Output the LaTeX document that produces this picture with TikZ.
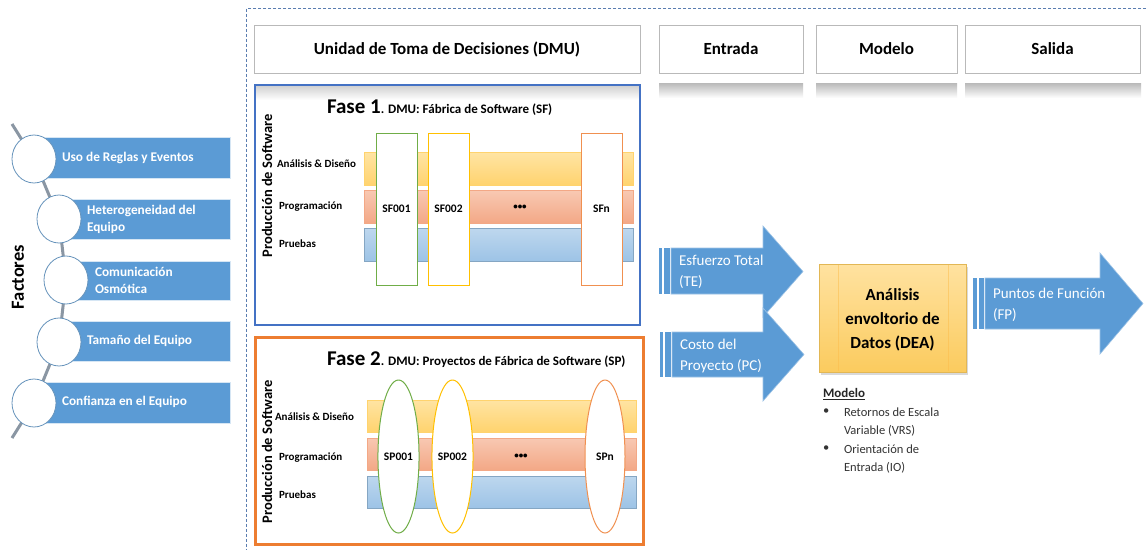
\documentclass[tikz,border=0pt]{standalone}
\usepackage{fontspec}
\setmainfont{Carlito}
\usetikzlibrary{shapes.geometric}
\definecolor{fblue}{HTML}{5B9BD5}
\definecolor{frameblue}{HTML}{4472C4}
\definecolor{forange}{HTML}{ED7D31}
\definecolor{fgreen}{HTML}{70AD47}
\definecolor{fyellow}{HTML}{FFC000}
\definecolor{dashblue}{HTML}{5A7DB0}
\definecolor{bandYt}{HTML}{FFE4A3}
\definecolor{bandYb}{HTML}{FFD36E}
\definecolor{bandOt}{HTML}{F8C8B2}
\definecolor{bandOb}{HTML}{F3A886}
\definecolor{bandBt}{HTML}{BDD7EE}
\definecolor{bandBb}{HTML}{9DC3E6}
\definecolor{deat}{HTML}{FFE2A0}
\definecolor{deab}{HTML}{FBCB5E}
\definecolor{chaingray}{HTML}{8A96A3}
\pgfdeclarelayer{bottom}
\pgfdeclarelayer{chainlayer}
\pgfsetlayers{bottom,chainlayer,main}
\tikzset{
  hdr/.style={draw=gray!55, line width=0.8pt, fill=white, font=\bfseries\fontsize{17}{20}\selectfont, minimum height=48pt},
  frect/.style={fill=fblue, draw=white!75!fblue, line width=0.8pt},
  ftext/.style={anchor=west, text=white, align=left, font=\bfseries\fontsize{13.3}{17}\selectfont},
  fcirc/.style={ellipse, draw=fblue!70!gray, line width=0.8pt, fill=white, minimum width=44pt, minimum height=48pt},
  bandY/.style={draw=bandYb, top color=bandYt, bottom color=bandYb, minimum width=269pt, minimum height=33pt},
  bandO/.style={draw=bandOb, top color=bandOt, bottom color=bandOb, minimum width=269pt, minimum height=33pt},
  bandB/.style={draw=bandBb!85!black, top color=bandBt, bottom color=bandBb, minimum width=269pt, minimum height=33pt},
  blabel/.style={anchor=west, font=\bfseries\fontsize{11}{13}\selectfont},
  col/.style={fill=white, line width=1pt, minimum width=41pt, minimum height=152pt, font=\bfseries\fontsize{11.5}{13}\selectfont},
  ecol/.style={ellipse, fill=white, line width=1pt, minimum width=39pt, minimum height=153pt, font=\bfseries\fontsize{11.5}{13}\selectfont},
  vtext/.style={rotate=90, font=\bfseries\fontsize{14.5}{16}\selectfont},
  arrowshape/.style={fill=fblue, draw=fblue!60!white, line width=0.6pt},
  atext/.style={anchor=west, text=white, align=left, font=\fontsize{15}{21}\selectfont},
  mtext/.style={anchor=west, text=black!80, font=\fontsize{12.5}{15}\selectfont},
  dotsnode/.style={font=\bfseries\fontsize{9}{12}\selectfont},
}
\begin{document}
\begin{tikzpicture}[x=1pt,y=-1pt, every node/.append style={inner sep=0pt, outer sep=0pt}]
\useasboundingbox (0,0) rectangle (1146,550);
\begin{pgfonlayer}{bottom}
\fill[white] (0,0) rectangle (1146,550);
\end{pgfonlayer}

% dashed frame
\draw[dashblue, line width=0.8pt, dash pattern=on 3pt off 2pt] (1146,8) -- (246.5,8) -- (246.5,550);

% header boxes
\node[hdr, minimum width=386pt] (hdmu) at (447,49) {Unidad de Toma de Decisiones (DMU)};
\node[hdr, minimum width=144pt] (hent) at (731,49) {Entrada};
\node[hdr, minimum width=141pt] (hmod) at (886.5,49) {Modelo};
\node[hdr, minimum width=175pt] (hsal) at (1052.5,49) {Salida};
\shade[top color=gray!55, bottom color=white] (659,83) rectangle (803,98);
\shade[top color=gray!55, bottom color=white] (816,83) rectangle (957,98);
\shade[top color=gray!55, bottom color=white] (965,83) rectangle (1141,98);

% ---------- Factores ----------
\node[frect, minimum width=186pt, minimum height=41pt] (r1) at (137,157.5) {};
\node[frect, minimum width=161pt, minimum height=40pt] (r2) at (149.5,219) {};
\node[frect, minimum width=154pt, minimum height=39pt] (r3) at (153,280.5) {};
\node[frect, minimum width=161pt, minimum height=40pt] (r4) at (149.5,341) {};
\node[frect, minimum width=186pt, minimum height=41pt] (r5) at (137,402.5) {};
\coordinate (ctop) at (12,124);
\coordinate (cbot) at (12,438);
\node[fcirc] (c1) at (34,159) {};
\node[fcirc] (c2) at (59,219) {};
\node[fcirc] (c3) at (66,280) {};
\node[fcirc] (c4) at (59,342) {};
\node[fcirc] (c5) at (34,403) {};
\begin{pgfonlayer}{chainlayer}
\draw[chaingray, line width=3pt] (ctop) -- (c1.center) -- (c2.center) -- (c3.center) -- (c4.center) -- (c5.center) -- (cbot);
\end{pgfonlayer}
\node[ftext] (t1) at (62,158) {Uso de Reglas y Eventos};
\node[ftext] (t2) at (87,219) {Heterogeneidad del\\Equipo};
\node[ftext] (t3) at (95,280) {Comunicación\\Osmótica};
\node[ftext] (t4) at (87,341) {Tamaño del Equipo};
\node[ftext] (t5) at (62,402) {Confianza en el Equipo};
\node[rotate=90, font=\bfseries\fontsize{18.5}{20}\selectfont] (fac) at (18,277) {Factores};

% ---------- Fase 1 ----------
\shade[top color=gray!35, bottom color=white] (256,86) rectangle (640,100);
\draw[frameblue, line width=2.5pt] (255,85) rectangle (640,325);
\node[anchor=base west] (f1t) at (327,113) {\bfseries\fontsize{21}{22}\selectfont Fase 1\fontsize{13}{15}\selectfont. DMU: Fábrica de Software (SF)};
\node[vtext] (f1v) at (267,186) {Producción de Software};
\node[bandY] (f1a) at (498.5,169) {};
\node[bandO] (f1p) at (498.5,207) {};
\node[bandB] (f1b) at (498.5,245) {};
\node[blabel] (f1la) at (277,164) {Análisis \& Diseño};
\node[blabel] (f1lp) at (279,207) {Programación};
\node[blabel] (f1lb) at (279,244) {Pruebas};
\node[col, draw=fgreen] (sf1) at (396.5,209) {SF001};
\node[col, draw=fyellow] (sf2) at (448.5,209) {SF002};
\node[col, draw=forange!85] (sfn) at (601.5,209) {SFn};
\node[dotsnode] (d1) at (520,207) {•••};

% ---------- Fase 2 ----------
\draw[forange, line width=3pt] (255.5,337) rectangle (643,544);
\node[anchor=base west] (f2t) at (327,365) {\bfseries\fontsize{21}{22}\selectfont Fase 2\fontsize{13}{15}\selectfont. DMU: Proyectos de Fábrica de Software (SP)};
\node[vtext] (f2v) at (267,452) {Producción de Software};
\node[bandY, minimum height=32pt] (f2a) at (501.5,416) {};
\node[bandO, minimum height=32pt] (f2p) at (501.5,454) {};
\node[bandB, minimum height=32pt] (f2b) at (501.5,492) {};
\node[blabel] (f2la) at (275,417) {Análisis \& Diseño};
\node[blabel] (f2lp) at (279,458) {Programación};
\node[blabel] (f2lb) at (279,495) {Pruebas};
\node[ecol, draw=fgreen] (sp1) at (398.5,456.5) {SP001};
\node[ecol, draw=fyellow, minimum width=36pt] (sp2) at (452.5,456.5) {SP002};
\node[ecol, draw=forange!85, minimum width=40pt] (spn) at (605,456.5) {SPn};
\node[dotsnode] (d2) at (521,456) {•••};

% ---------- Entrada arrows ----------
\fill[fblue] (659,248) rectangle (662,294);
\fill[fblue] (664,248) rectangle (669.5,294);
\path[arrowshape] (671,248) -- (763,248) -- (763,226) -- (803,271.5) -- (763,317) -- (763,294) -- (671,294) -- cycle;
\node[atext] (te) at (679,272) {Esfuerzo Total\\(TE)};
\fill[fblue] (660,332) rectangle (663,377);
\fill[fblue] (665,332) rectangle (670.5,377);
\path[arrowshape] (672,332) -- (763,332) -- (763,308) -- (804,354.5) -- (763,401) -- (763,377) -- (672,377) -- cycle;
\node[atext] (pc) at (680,355.5) {Costo del\\Proyecto (PC)};

% ---------- DEA ----------
\fill[gray!30] (821,267) rectangle (968,375);
\node[draw=deab!90!black, line width=0.5pt, top color=deat, bottom color=deab, minimum width=147pt, minimum height=108pt] (dea) at (892.5,318) {};
\draw[deab!80!orange, opacity=0.5] (838,265) -- (838,371);
\draw[deab!80!orange, opacity=0.5] (948,265) -- (948,371);
\node[align=center, font=\bfseries\fontsize{17}{24}\selectfont] (deat) at (892.5,320) {Análisis\\envoltorio de\\Datos (DEA)};

\node[anchor=west, font=\bfseries\fontsize{13}{15}\selectfont, text=black!85] (mod) at (823,394) {\underline{Modelo}};
\node[mtext] (b1) at (823,412) {•};
\node[mtext] (m1) at (844,412) {Retornos de Escala};
\node[mtext] (m2) at (844,431) {Variable (VRS)};
\node[mtext] (b2) at (823,449) {•};
\node[mtext] (m3) at (844,449) {Orientación de};
\node[mtext] (m4) at (844,468) {Entrada (IO)};

% ---------- Salida arrow ----------
\fill[fblue] (973,278) rectangle (977,329);
\fill[fblue] (979,278) rectangle (984,329);
\path[arrowshape] (985,278) -- (1100,278) -- (1100,253) -- (1143,303.5) -- (1100,354) -- (1100,329) -- (985,329) -- cycle;
\node[atext] (fp) at (993,304.5) {Puntos de Función\\(FP)};
\end{tikzpicture}
\end{document}
